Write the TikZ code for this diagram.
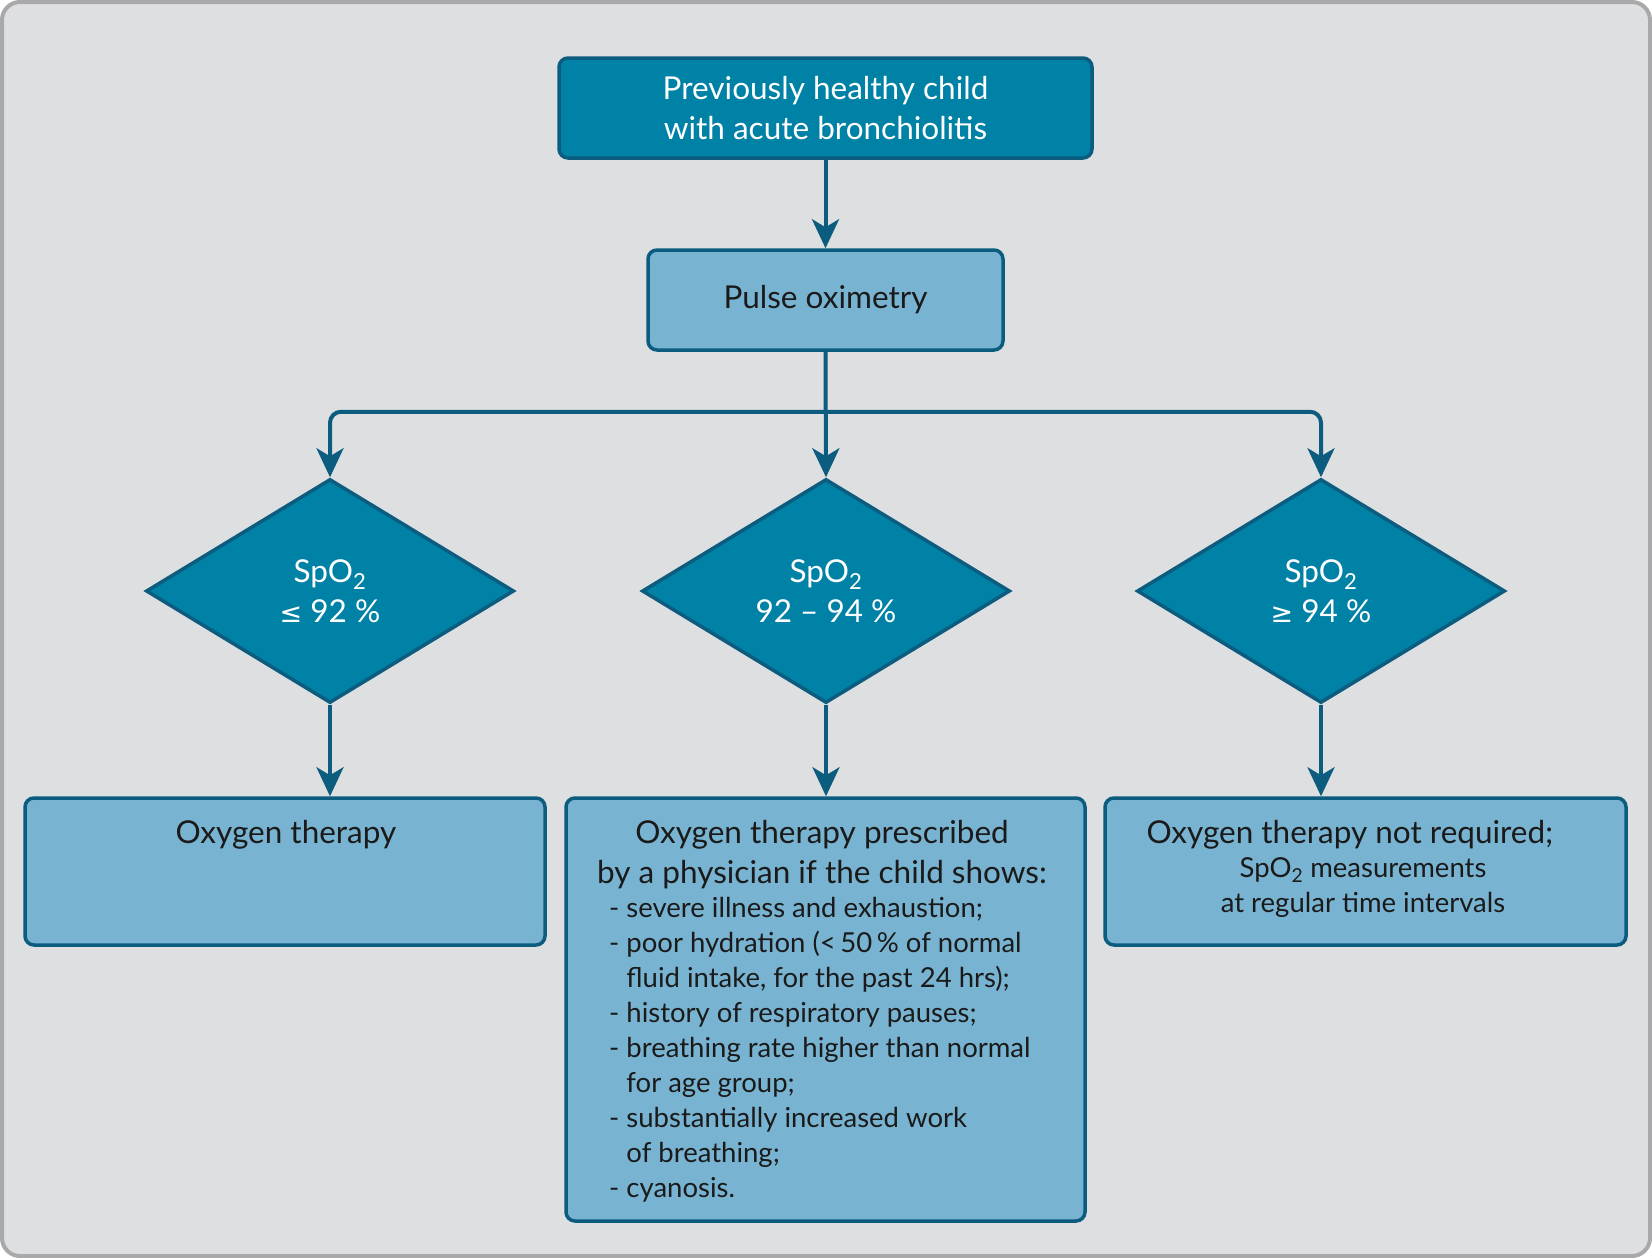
\documentclass[tikz,border=0pt]{standalone}
\usepackage{fontspec}
\setmainfont{Lato}
\newfontfamily\symf{DejaVu Sans}
\usetikzlibrary{shapes.geometric,arrows.meta}
\definecolor{bg}{HTML}{DEDFE1}
\definecolor{frame}{HTML}{A9A9AB}
\definecolor{dark}{HTML}{0081A6}
\definecolor{edge}{HTML}{0B5C7E}
\definecolor{light}{HTML}{78B4D2}
\definecolor{ink}{HTML}{1A1A1A}
\tikzset{
  bigfont/.style={font=\fontsize{31.5}{40}\selectfont},
  smallfont/.style={font=\fontsize{27.5}{35}\selectfont},
  darkbox/.style={draw=edge, fill=dark, line width=3.5pt, rounded corners=9pt, text=white, align=center, bigfont, inner sep=0pt},
  lightbox/.style={draw=edge, fill=light, line width=3.5pt, rounded corners=9pt, text=ink, align=center, bigfont, inner sep=0pt},
  decision/.style={diamond, draw=edge, fill=dark, line width=3.5pt, text=white, align=center, bigfont, inner sep=0pt, minimum width=368pt, minimum height=224pt},
  arr/.style={draw=edge, line width=4pt, -{Stealth[length=29pt,width=27pt,inset=8pt]}},
  txt/.style={text=ink, inner sep=0pt}
}
\begin{document}
\begin{tikzpicture}[x=1pt,y=-1pt]
\useasboundingbox (0,0) rectangle (1652,1258);
\draw[line width=4pt, draw=frame, fill=bg, rounded corners=18pt] (2,2) rectangle (1650,1256);

\node[darkbox, minimum width=533pt, minimum height=100pt] (top) at (825.5,108) {Previously healthy child\\with acute bronchiolitis};
\node[lightbox, minimum width=355pt, minimum height=100pt] (pulse) at (825.5,300) {Pulse oximetry};

\node[decision] (d1) at (330,591) {SpO\textsubscript{2}\\{\symf\fontsize{27}{27}\selectfont ≤} 92 \%};
\node[decision] (d2) at (826,591) {SpO\textsubscript{2}\\92 – 94 \%};
\node[decision] (d3) at (1321,591) {SpO\textsubscript{2}\\{\symf\fontsize{27}{27}\selectfont ≥} 94 \%};

\node[lightbox, minimum width=520pt, minimum height=147pt] (b1) at (285,871.5) {};
\node[lightbox, minimum width=519pt, minimum height=423pt] (b2) at (825.5,1009.5) {};
\node[lightbox, minimum width=521pt, minimum height=147pt] (b3) at (1365.5,871.5) {};

% note: for multi-line nodes the base anchor is the baseline of the last line
\node[txt, bigfont, anchor=base] (t1) at (286,843) {Oxygen therapy};
\node[txt, bigfont, anchor=base, align=center] (t2) at (822,883) {Oxygen therapy prescribed\\by a physician if the child shows:};
\node[txt, smallfont, anchor=base west, align=left] (t2list) at (609,1197) {%
- severe illness and exhaustion;\\
- poor hydration (<\,50\,\% of normal\\
\hphantom{- }fluid intake, for the past 24 hrs);\\
- history of respiratory pauses;\\
- breathing rate higher than normal\\
\hphantom{- }for age group;\\
- substantially increased work\\
\hphantom{- }of breathing;\\
- cyanosis.};
\node[txt, bigfont, anchor=base] (t3) at (1350,843) {Oxygen therapy not required;};
\node[txt, smallfont, anchor=base, align=center] (t3b) at (1363,912) {SpO\textsubscript{2} measurements\\at regular time intervals};

\coordinate (junc) at ([yshift=-60pt]pulse.south);
\draw[arr] (top.south) -- (pulse.north);
\draw[arr] (pulse.south) -- (d2.north);
\draw[arr, rounded corners=11pt] (junc) -| (d1.north);
\draw[arr, rounded corners=11pt] (junc) -| (d3.north);
\draw[arr] (d1.south) -- (d1.south |- b1.north);
\draw[arr] (d2.south) -- (d2.south |- b2.north);
\draw[arr] (d3.south) -- (d3.south |- b3.north);
\end{tikzpicture}
\end{document}
